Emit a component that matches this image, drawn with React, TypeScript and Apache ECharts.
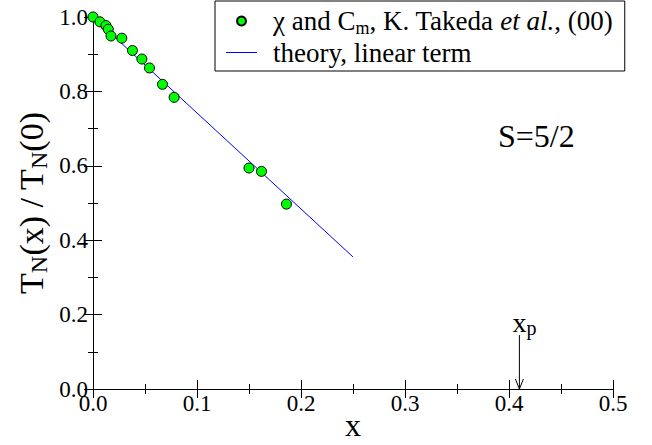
import React, { useEffect, useRef } from "react";
import * as echarts from "echarts";

const dataX = [0, 0.0067, 0.0125, 0.0147, 0.0173, 0.0277, 0.0379, 0.047, 0.0543, 0.0668, 0.078, 0.15, 0.162, 0.186];
const dataY = [1.0, 0.987, 0.977, 0.967, 0.949, 0.943, 0.91, 0.887, 0.863, 0.819, 0.784, 0.594, 0.585, 0.497];
const theoryX = [0, 0.25];
const theoryY = [1.0, 0.355];
const arrowX = [0.41];
const arrowTopY = [0.145];

const NAME_DATA = "χ and Cm, K. Takeda et al., (00)";
const NAME_THEORY = "theory, linear term";

const SERIF = "Liberation Serif";

export default function App() {
  const ref = useRef<HTMLDivElement>(null);
  useEffect(() => {
    if (!ref.current) return;
    const chart = echarts.init(ref.current, null, { renderer: "svg" });
    const tickRich = { t: { fontFamily: SERIF, fontSize: 23, color: "#000" } };
    const tickLabel = {
      fontFamily: SERIF,
      fontSize: 23,
      color: "#000",
      formatter: (v: number) => `{t|${v.toFixed(1)}}`,
      rich: tickRich,
    };
    const axisCommon = {
      type: "value" as const,
      axisLine: { show: true, lineStyle: { color: "#000", width: 1 } },
      axisTick: { show: true, inside: true, length: 9, lineStyle: { color: "#000" } },
      minorTick: { show: true, splitNumber: 2, length: 5, lineStyle: { color: "#000" } },
      splitLine: { show: false },
      minorSplitLine: { show: false },
    };
    const legendRich = {
      g: { width: 11 },
      a: { fontFamily: SERIF, fontSize: 27, color: "#000", lineHeight: 30 },
      i: { fontFamily: SERIF, fontSize: 27, color: "#000", fontStyle: "italic", lineHeight: 30 },
      s: { fontFamily: SERIF, fontSize: 18, color: "#000", padding: [14, 0, 0, 0], lineHeight: 18 },
    };
    chart.setOption({
      animation: false,
      backgroundColor: "#fff",
      textStyle: { fontFamily: SERIF },
      grid: { left: 93, right: 39, top: 17, bottom: 56, outerBoundsMode: "none", containLabel: false },
      legend: {
        orient: "vertical",
        left: 215,
        top: 1,
        padding: [4, 12, 5, 11],
        itemGap: 2,
        itemWidth: 31,
        itemHeight: 9,
        backgroundColor: "#fff",
        borderColor: "#000",
        borderWidth: 1,
        borderRadius: 0,
        data: [
          { name: NAME_DATA, icon: "circle" },
          { name: NAME_THEORY, icon: "path://M0 0 H31 V1 H0 Z" },
        ],
        formatter: (name: string) =>
          name === NAME_DATA
            ? "{g|}{a|χ and C}{s|m}{a|, K. Takeda }{i|et al.}{a|, (00)}"
            : "{g|}{a|theory, linear term}",
        textStyle: { fontFamily: SERIF, rich: legendRich },
      },
      xAxis: [
        {
          ...axisCommon,
          min: 0,
          max: 0.5,
          interval: 0.1,
          position: "bottom",
          axisLabel: { ...tickLabel, margin: 3 },
          name: "x",
          nameLocation: "middle",
          nameGap: 20,
          nameMoveOverlap: false,
          nameTextStyle: { fontFamily: SERIF, fontSize: 32, color: "#000" },
        },
        {
          ...axisCommon,
          min: 0,
          max: 0.5,
          interval: 0.1,
          position: "top",
          axisLabel: { show: false },
        },
      ],
      yAxis: [
        {
          ...axisCommon,
          min: 0,
          max: 1,
          interval: 0.2,
          position: "left",
          axisLabel: { ...tickLabel, margin: 5 },
          name: "{a|T}{s|N}{a|(x) / T}{s|N}{a|(0)}",
          nameLocation: "middle",
          nameGap: 43,
          nameMoveOverlap: false,
          nameRotate: 90,
          nameTextStyle: {
            fontFamily: SERIF,
            rich: {
              a: { fontFamily: SERIF, fontSize: 34, color: "#000", lineHeight: 38 },
              s: { fontFamily: SERIF, fontSize: 24, color: "#000", padding: [15, 0, 0, 0], lineHeight: 24 },
            },
          },
        },
        {
          ...axisCommon,
          min: 0,
          max: 1,
          interval: 0.2,
          position: "right",
          axisLabel: { show: false },
        },
      ],
      graphic: [
        {
          type: "text",
          left: 498,
          top: 120,
          z: 10,
          style: { text: "S=5/2", fontFamily: SERIF, fontSize: 32, fill: "#000" },
        },
      ],
      series: [
        {
          name: NAME_THEORY,
          type: "line",
          data: theoryX.map((x, i) => [x, theoryY[i]]),
          symbol: "none",
          lineStyle: { color: "#0000ff", width: 1 },
          itemStyle: { color: "#0000ff" },
          z: 2,
        },
        {
          name: NAME_DATA,
          type: "scatter",
          data: dataX.map((x, i) => [x, dataY[i]]),
          symbol: "circle",
          symbolSize: 10,
          itemStyle: { color: "#00ff00", borderColor: "#000", borderWidth: 1, opacity: 1 },
          z: 3,
        },
        {
          type: "custom",
          data: arrowX.map((x, i) => [x, arrowTopY[i]]),
          clip: false,
          renderItem: (params: any, api: any) => {
            const x = api.value(0);
            const y = api.value(1);
            const top = api.coord([x, y]);
            const bot = api.coord([x, 0]);
            return {
              type: "group",
              children: [
                {
                  type: "line",
                  shape: { x1: top[0], y1: top[1], x2: bot[0], y2: bot[1] },
                  style: { stroke: "#000", lineWidth: 1 },
                },
                {
                  type: "polyline",
                  shape: {
                    points: [
                      [bot[0] - 4, bot[1] - 10],
                      [bot[0], bot[1]],
                      [bot[0] + 4, bot[1] - 10],
                    ],
                  },
                  style: { stroke: "#000", fill: "none", lineWidth: 1 },
                },
                {
                  type: "text",
                  x: top[0] - 7,
                  y: top[1] + 2,
                  style: {
                    text: "{a|x}{s|p}",
                    align: "left",
                    verticalAlign: "bottom",
                    fontFamily: SERIF,
                    rich: {
                      a: { fontFamily: SERIF, fontSize: 28, fill: "#000", color: "#000", lineHeight: 30 },
                      s: { fontFamily: SERIF, fontSize: 20, fill: "#000", color: "#000", padding: [12, 0, 0, 0], lineHeight: 20 },
                    },
                  },
                },
              ],
            };
          },
          z: 4,
        },
      ],
    });
    return () => chart.dispose();
  }, []);
  return (
    <>
      <style>{`#root svg text, #root svg tspan { font-family: "Liberation Serif", serif !important; }`}</style>
      <div
        ref={ref}
        style={{ position: "absolute", left: 0, top: 0, width: 652, height: 445 }}
      />
    </>
  );
}
